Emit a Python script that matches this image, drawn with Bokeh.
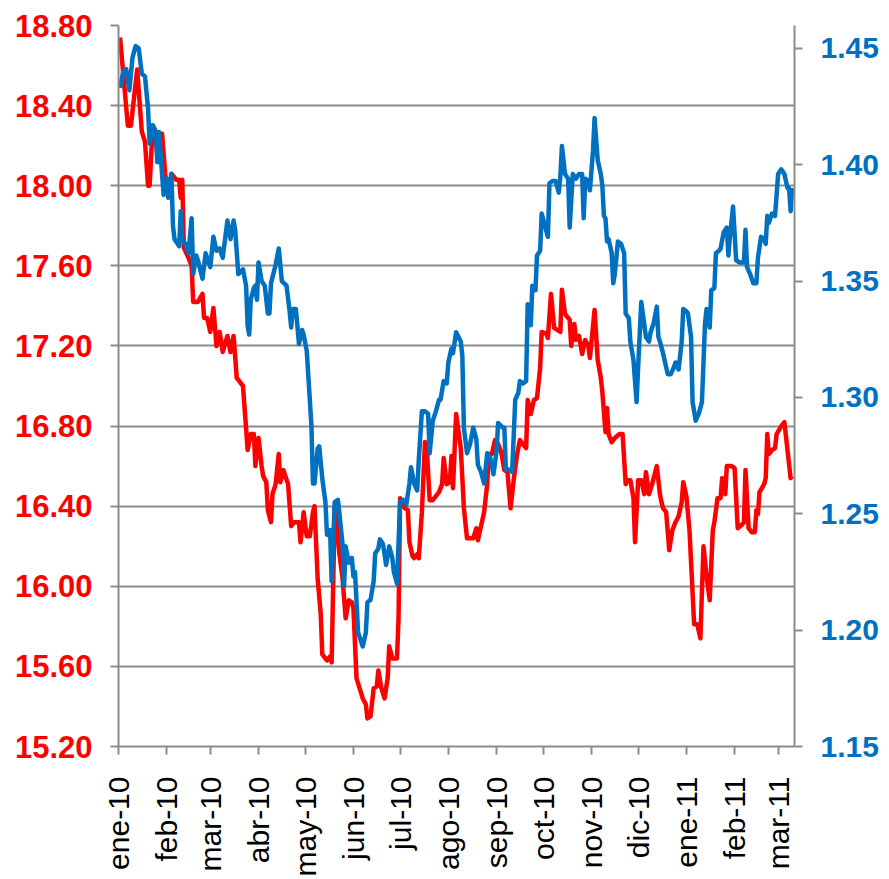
from bokeh.plotting import figure
from bokeh.models import Range1d, LinearAxis, FixedTicker, NumeralTickFormatter
from bokeh.embed import file_html
from bokeh.resources import INLINE
import math

# ---- data (day offset from 2010-01-01, value) ----
month_days = [0, 31, 59, 90, 120, 151, 181, 212, 243, 273, 304, 334, 365, 396, 424]
month_labels = ["ene-10", "feb-10", "mar-10", "abr-10", "may-10", "jun-10", "jul-10",
                "ago-10", "sep-10", "oct-10", "nov-10", "dic-10", "ene-11", "feb-11", "mar-11"]

left_ticks = [15.2, 15.6, 16.0, 16.4, 16.8, 17.2, 17.6, 18.0, 18.4, 18.8]
right_ticks = [1.15, 1.20, 1.25, 1.30, 1.35, 1.40, 1.45]

red_day = [1, 6, 8, 12, 15, 17, 19, 20, 22, 24, 25, 28, 30, 32, 34, 37, 39, 40, 41, 42,
           45, 47, 48, 51, 54, 55, 57, 59, 61, 63, 65, 67, 70, 72, 74, 76, 78, 80, 82, 83,
           85, 87, 88, 90, 92, 93, 95, 96, 98, 99, 101, 103, 104, 106, 109, 111, 113, 116, 117, 119,
           121, 123, 125, 126, 128, 130, 131, 134, 136, 137, 139, 141, 142, 144, 146, 148, 150, 151, 153, 155,
           157, 159, 160, 162, 164, 166, 167, 169, 171, 173, 174, 176, 179, 180, 181, 184, 186, 187, 189, 190,
           192, 193, 195, 197, 198, 200, 202, 204, 206, 208, 209, 211, 213, 214, 215, 217, 220, 222, 224, 226,
           228, 230, 231, 233, 235, 237, 238, 240, 242, 244, 246, 248, 250, 252, 254, 256, 258, 260, 262, 263,
           265, 267, 269, 271, 272, 275, 276, 278, 280, 282, 284, 285, 287, 290, 291, 293, 294, 296, 298, 300,
           302, 303, 306, 308, 310, 311, 313, 314, 315, 317, 319, 322, 324, 326, 327, 329, 331, 332, 334, 336,
           338, 339, 341, 343, 345, 346, 348, 349, 350, 352, 354, 356, 358, 360, 362, 363, 365, 367, 370, 372,
           374, 376, 378, 380, 382, 383, 385, 387, 388, 390, 391, 394, 396, 398, 401, 402, 403, 405, 407, 409,
           410, 411, 412, 415, 416, 417, 418, 420, 422, 423, 426, 428, 431, 432, 433]
red_val = [18.74, 18.30, 18.30, 18.58, 18.27, 18.22, 18.00, 18.00, 18.30, 18.27, 18.13, 18.26, 18.06, 17.94, 18.06, 18.03, 18.03, 17.94, 18.03, 17.69,
           17.64, 17.60, 17.42, 17.42, 17.46, 17.34, 17.34, 17.27, 17.39, 17.20, 17.27, 17.17, 17.25, 17.17, 17.25, 17.04, 17.02, 17.00, 16.79, 16.68,
           16.76, 16.76, 16.60, 16.74, 16.60, 16.55, 16.52, 16.38, 16.32, 16.46, 16.51, 16.66, 16.52, 16.58, 16.51, 16.30, 16.32, 16.32, 16.22, 16.37,
           16.25, 16.25, 16.37, 16.40, 16.04, 15.86, 15.66, 15.63, 15.65, 15.62, 16.40, 16.25, 16.16, 16.04, 15.84, 15.93, 15.92, 15.89, 15.54, 15.49,
           15.44, 15.41, 15.34, 15.35, 15.49, 15.50, 15.58, 15.49, 15.44, 15.54, 15.70, 15.64, 15.64, 15.84, 16.44, 16.39, 16.38, 16.22, 16.15, 16.14,
           16.16, 16.14, 16.37, 16.72, 16.71, 16.43, 16.43, 16.45, 16.47, 16.51, 16.64, 16.51, 16.52, 16.65, 16.49, 16.86, 16.69, 16.39, 16.24, 16.24,
           16.24, 16.29, 16.23, 16.30, 16.37, 16.51, 16.66, 16.66, 16.73, 16.71, 16.67, 16.58, 16.57, 16.39, 16.53, 16.65, 16.73, 16.71, 16.69, 16.93,
           16.86, 16.93, 16.94, 17.09, 17.27, 17.26, 17.24, 17.46, 17.29, 17.28, 17.27, 17.48, 17.36, 17.33, 17.20, 17.31, 17.23, 17.25, 17.16, 17.23,
           17.20, 17.14, 17.38, 17.13, 17.04, 16.97, 16.77, 16.89, 16.76, 16.72, 16.74, 16.76, 16.76, 16.51, 16.53, 16.53, 16.44, 16.22, 16.53, 16.53,
           16.46, 16.57, 16.46, 16.51, 16.57, 16.60, 16.46, 16.42, 16.39, 16.37, 16.18, 16.28, 16.32, 16.35, 16.42, 16.52, 16.45, 16.28, 15.81, 15.81,
           15.74, 16.20, 16.05, 15.93, 16.28, 16.32, 16.44, 16.44, 16.54, 16.46, 16.60, 16.60, 16.59, 16.29, 16.31, 16.32, 16.58, 16.29, 16.27, 16.27,
           16.38, 16.36, 16.47, 16.51, 16.54, 16.76, 16.66, 16.68, 16.69, 16.76, 16.80, 16.82, 16.61, 16.54, 16.55]

blue_day = [1, 3, 5, 7, 9, 11, 13, 15, 17, 19, 20, 22, 24, 25, 26, 28, 29, 31, 32, 34,
            35, 36, 38, 39, 40, 41, 43, 45, 47, 48, 50, 51, 54, 56, 57, 59, 61, 63, 65, 67,
            70, 72, 74, 75, 77, 80, 82, 83, 84, 85, 87, 88, 89, 90, 92, 94, 96, 97, 98, 101,
            103, 105, 108, 110, 111, 112, 114, 116, 118, 119, 121, 124, 125, 126, 128, 129, 131, 133, 134, 136,
            137, 139, 141, 142, 144, 145, 146, 148, 150, 151, 152, 154, 156, 157, 159, 160, 162, 164, 165, 167,
            168, 170, 172, 174, 176, 177, 179, 181, 183, 185, 187, 188, 190, 192, 193, 195, 197, 199, 200, 202,
            204, 206, 207, 209, 211, 212, 214, 215, 217, 220, 221, 222, 224, 226, 228, 230, 231, 233, 235, 237,
            239, 241, 243, 244, 247, 248, 249, 251, 253, 254, 255, 257, 258, 260, 262, 263, 265, 266, 267, 268,
            269, 271, 272, 274, 276, 277, 279, 281, 283, 284, 285, 287, 289, 290, 292, 294, 296, 298, 299, 300,
            302, 303, 305, 306, 308, 310, 311, 312, 313, 314, 315, 317, 318, 319, 321, 323, 325, 326, 328, 329,
            331, 333, 334, 336, 337, 339, 341, 342, 344, 346, 347, 348, 350, 351, 353, 355, 357, 358, 360, 362,
            363, 365, 366, 368, 369, 371, 373, 375, 377, 378, 379, 380, 381, 383, 384, 386, 387, 389, 391, 392,
            393, 395, 397, 399, 402, 403, 404, 406, 408, 410, 411, 413, 415, 416, 417, 418, 420, 422, 424, 426,
            428, 430, 431, 432, 433]
blue_val = [1.433, 1.440, 1.441, 1.432, 1.446, 1.451, 1.450, 1.439, 1.438, 1.424, 1.409, 1.417, 1.414, 1.401, 1.414, 1.396, 1.387, 1.394, 1.386, 1.396,
            1.374, 1.368, 1.366, 1.365, 1.380, 1.368, 1.366, 1.362, 1.377, 1.353, 1.361, 1.359, 1.351, 1.362, 1.360, 1.356, 1.369, 1.363, 1.364, 1.360,
            1.376, 1.368, 1.376, 1.372, 1.353, 1.355, 1.348, 1.331, 1.327, 1.342, 1.347, 1.348, 1.342, 1.358, 1.350, 1.348, 1.336, 1.336, 1.349, 1.357,
            1.364, 1.350, 1.348, 1.337, 1.330, 1.338, 1.338, 1.323, 1.329, 1.327, 1.320, 1.288, 1.263, 1.263, 1.278, 1.279, 1.265, 1.255, 1.241, 1.243,
            1.221, 1.255, 1.256, 1.250, 1.237, 1.219, 1.236, 1.229, 1.231, 1.223, 1.225, 1.199, 1.195, 1.193, 1.199, 1.212, 1.213, 1.221, 1.233, 1.235,
            1.239, 1.237, 1.228, 1.236, 1.231, 1.225, 1.220, 1.255, 1.256, 1.254, 1.263, 1.270, 1.263, 1.260, 1.273, 1.294, 1.294, 1.293, 1.276, 1.290,
            1.294, 1.299, 1.299, 1.307, 1.306, 1.315, 1.321, 1.319, 1.328, 1.324, 1.318, 1.287, 1.276, 1.280, 1.287, 1.282, 1.271, 1.268, 1.263, 1.276,
            1.274, 1.267, 1.277, 1.289, 1.287, 1.287, 1.269, 1.269, 1.268, 1.283, 1.299, 1.302, 1.307, 1.306, 1.307, 1.340, 1.331, 1.348, 1.346, 1.346,
            1.361, 1.363, 1.379, 1.374, 1.369, 1.392, 1.393, 1.393, 1.388, 1.395, 1.408, 1.396, 1.394, 1.373, 1.396, 1.394, 1.396, 1.396, 1.377, 1.394,
            1.393, 1.389, 1.406, 1.420, 1.402, 1.396, 1.391, 1.378, 1.377, 1.367, 1.368, 1.362, 1.349, 1.353, 1.367, 1.366, 1.362, 1.336, 1.334, 1.324,
            1.316, 1.298, 1.313, 1.341, 1.336, 1.326, 1.324, 1.328, 1.332, 1.339, 1.326, 1.324, 1.319, 1.316, 1.310, 1.310, 1.313, 1.315, 1.312, 1.324,
            1.338, 1.337, 1.336, 1.326, 1.298, 1.290, 1.293, 1.298, 1.332, 1.338, 1.336, 1.330, 1.346, 1.347, 1.362, 1.363, 1.364, 1.371, 1.373, 1.361,
            1.369, 1.382, 1.359, 1.358, 1.358, 1.372, 1.356, 1.353, 1.349, 1.349, 1.360, 1.369, 1.368, 1.366, 1.378, 1.375, 1.379, 1.378, 1.396, 1.398,
            1.396, 1.390, 1.390, 1.380, 1.390]

n_red = min(len(red_day), len(red_val))
n_blue = min(len(blue_day), len(blue_val))

RED = "#FF0000"
BLUE = "#0070C0"
GRAY = "#8C8C8C"

p = figure(width=881, height=879, output_backend="svg", toolbar_location=None,
           x_range=Range1d(0, 434.5), y_range=Range1d(15.2, 18.8),
           min_border_left=118, min_border_right=85, min_border_top=25, min_border_bottom=131)
p.outline_line_color = None
p.background_fill_color = "white"
p.border_fill_color = "white"

p.extra_y_ranges = {"right": Range1d(1.15, 1.4598)}

# grid
p.xgrid.visible = False
p.ygrid.grid_line_color = GRAY
p.ygrid.grid_line_width = 2

# x axis
xa = p.xaxis[0]
xa.ticker = FixedTicker(ticks=month_days)
xa.major_label_overrides = {d: l for d, l in zip(month_days, month_labels)}
xa.major_label_orientation = math.pi / 2
xa.major_label_text_font = "Liberation Sans"
xa.major_label_text_font_size = "30px"
xa.major_label_text_color = "black"
xa.major_label_standoff = 22
xa.axis_line_color = GRAY
xa.axis_line_width = 2
xa.major_tick_line_color = GRAY
xa.major_tick_line_width = 2
xa.major_tick_out = 8
xa.major_tick_in = 0
xa.minor_tick_line_color = None

# left axis
ya = p.yaxis[0]
ya.ticker = FixedTicker(ticks=left_ticks)
ya.formatter = NumeralTickFormatter(format="0.00")
ya.major_label_text_font = "Liberation Sans"
ya.major_label_text_font_style = "bold"
ya.major_label_text_font_size = "31px"
ya.major_label_text_color = RED
ya.major_label_standoff = 18
ya.axis_line_color = GRAY
ya.axis_line_width = 2
ya.major_tick_line_color = GRAY
ya.major_tick_line_width = 2
ya.major_tick_out = 8
ya.major_tick_in = 0
ya.minor_tick_line_color = None

# right axis
ra = LinearAxis(y_range_name="right")
ra.ticker = FixedTicker(ticks=right_ticks)
ra.formatter = NumeralTickFormatter(format="0.00")
ra.major_label_text_font = "Liberation Sans"
ra.major_label_text_font_style = "bold"
ra.major_label_text_font_size = "30px"
ra.major_label_text_color = BLUE
ra.major_label_standoff = 18
ra.axis_line_color = GRAY
ra.axis_line_width = 2
ra.major_tick_line_color = GRAY
ra.major_tick_line_width = 2
ra.major_tick_out = 8
ra.major_tick_in = 0
ra.minor_tick_line_color = None
p.add_layout(ra, "right")

p.line(red_day[:n_red], red_val[:n_red], line_color=RED, line_width=4.5, line_join="round")
p.line(blue_day[:n_blue], blue_val[:n_blue], line_color=BLUE, line_width=4.5, line_join="round",
       y_range_name="right")

open("out.html", "w").write(file_html(p, INLINE))
